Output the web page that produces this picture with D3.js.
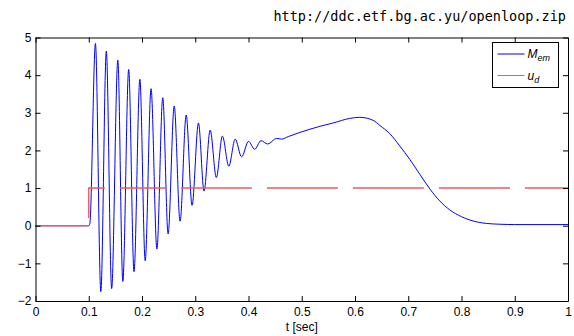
<!DOCTYPE html>
<html>
<head>
<meta charset="utf-8">
<script src="https://cdn.jsdelivr.net/npm/d3@7"></script>
<style>
  body { margin: 0; background: #fff; }
  svg text { font-family: "Liberation Sans", Arial, sans-serif; }
</style>
</head>
<body>
<svg class="chart"></svg>
<script>
// M_em samples (t in sec, value)
const memT = [0, 0.1, 0.102, 0.1126, 0.1227, 0.133, 0.143, 0.1546, 0.164, 0.175, 0.185, 0.196, 0.206,
  0.217, 0.228, 0.239, 0.249, 0.2605, 0.2715, 0.283, 0.294, 0.306, 0.3165, 0.328, 0.3396, 0.351, 0.363,
  0.375, 0.387, 0.400, 0.4116, 0.4235, 0.436, 0.453, 0.462, 0.475, 0.497, 0.534, 0.559, 0.59, 0.609,
  0.634, 0.647, 0.665, 0.684, 0.703, 0.722, 0.741, 0.759, 0.778, 0.80, 0.816, 0.847, 0.872, 0.9, 1.0];
const memV = [0, 0, 0.05, 4.84, -1.75, 4.64, -1.67, 4.40, -1.48, 4.15, -1.22, 3.89, -0.93,
  3.64, -0.62, 3.40, -0.22, 3.18, 0.12, 2.94, 0.54, 2.73, 0.92, 2.54, 1.28, 2.38, 1.58,
  2.30, 1.83, 2.24, 2.03, 2.26, 2.17, 2.32, 2.30, 2.37, 2.48, 2.64, 2.73, 2.85, 2.88,
  2.80, 2.66, 2.45, 2.12, 1.76, 1.36, 0.97, 0.66, 0.42, 0.24, 0.15, 0.06, 0.04, 0.03, 0.03];

// u_d step
const udT = [0, 0.1, 0.1, 1];
const udV = [0, 0, 1, 1];

const xTicks = [0, 0.1, 0.2, 0.3, 0.4, 0.5, 0.6, 0.7, 0.8, 0.9, 1];
const yTicks = [-2, -1, 0, 1, 2, 3, 4, 5];

const width = 574;
const height = 336;
const marginTop = 37.5;
const marginRight = 6;
const marginBottom = 35;
const marginLeft = 35.5;
const tickLen = 5;

const x = d3.scaleLinear().domain([0, 1]).range([marginLeft, width - marginRight]);
const y = d3.scaleLinear().domain([-2, 5]).range([height - marginBottom, marginTop]);

const svg = d3.select("svg.chart")
  .attr("width", width)
  .attr("height", height)
  .attr("viewBox", `0 0 ${width} ${height}`);

// url line at the top
svg.append("text")
  .attr("x", 566)
  .attr("y", 21)
  .attr("text-anchor", "end")
  .style("font-family", "'DejaVu Sans Mono', monospace")
  .style("font-size", "13.5px")
  .text("http://ddc.etf.bg.ac.yu/openloop.zip");

// curves
const line = d3.line()
  .x(d => x(d[0]))
  .y(d => y(d[1]))
  .curve(d3.curveMonotoneX);

svg.append("path")
  .datum(memT.map((t, i) => [t, memV[i]]))
  .attr("fill", "none")
  .attr("stroke", "#0000ff")
  .attr("stroke-width", 1)
  .attr("d", line);

svg.append("path")
  .datum(udT.map((t, i) => [t, udV[i]]))
  .attr("fill", "none")
  .attr("stroke", "#f05a5a")
  .attr("stroke-width", 1.4)
  .attr("stroke-dasharray", "53 8 46 15 46 15 71 15 71 15 71 15 71 15 71 15 71")
  .attr("d", d3.line().x(d => x(d[0])).y(d => y(d[1])));

// axes (MATLAB-style box with inward ticks)
svg.append("g")
  .attr("transform", `translate(0,${height - marginBottom})`)
  .call(d3.axisBottom(x).tickValues(xTicks).tickSizeInner(-tickLen).tickSizeOuter(0).tickPadding(6)
    .tickFormat(d3.format("")))
  .call(g => g.selectAll("text").style("font-size", "12px").attr("fill", "#000"));

svg.append("g")
  .attr("transform", `translate(0,${marginTop})`)
  .call(d3.axisTop(x).tickValues(xTicks).tickSizeInner(-tickLen).tickSizeOuter(0).tickFormat(""));

svg.append("g")
  .attr("transform", `translate(${marginLeft},0)`)
  .call(d3.axisLeft(y).tickValues(yTicks).tickSizeInner(-tickLen).tickSizeOuter(0).tickPadding(4)
    .tickFormat(d3.format("d")))
  .call(g => g.selectAll("text").style("font-size", "12px").attr("fill", "#000"));

svg.append("g")
  .attr("transform", `translate(${width - marginRight},0)`)
  .call(d3.axisRight(y).tickValues(yTicks).tickSizeInner(-tickLen).tickSizeOuter(0).tickFormat(""));

svg.selectAll(".domain").attr("stroke", "#000");

svg.append("text")
  .attr("x", (marginLeft + width - marginRight) / 2)
  .attr("y", 331)
  .attr("text-anchor", "middle")
  .style("font-size", "12px")
  .text("t [sec]");

// legend
const legend = svg.append("g").attr("transform", "translate(492.5,42.5)");
legend.append("rect")
  .attr("width", 66)
  .attr("height", 45)
  .attr("fill", "#fff")
  .attr("stroke", "#000");

const items = [
  { name: "M", sub: "em", color: "#0000ff" },
  { name: "u", sub: "d", color: "#f05a5a" }
];
items.forEach((it, i) => {
  const yy = 11.5 + i * 21.5;
  legend.append("line")
    .attr("x1", 5).attr("x2", 32)
    .attr("y1", yy).attr("y2", yy)
    .attr("stroke", it.color)
    .attr("stroke-width", 1);
  const t = legend.append("text")
    .attr("x", 35)
    .attr("y", yy + 4)
    .style("font-size", "12px")
    .style("font-style", "italic");
  t.append("tspan").text(it.name);
  t.append("tspan").attr("dy", 3).style("font-size", "9px").text(it.sub);
});
</script>
</body>
</html>
